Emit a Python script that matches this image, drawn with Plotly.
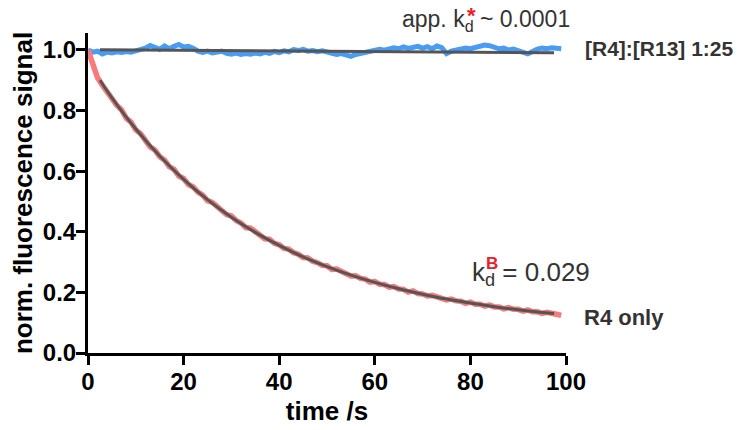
import plotly.graph_objects as go

# ---- data ----
time_s = list(range(0, 100))

r4_only = [1.000, 0.955, 0.908, 0.884, 0.861, 0.846, 0.818, 0.803, 0.775, 0.762,
           0.736, 0.724, 0.705, 0.680, 0.670, 0.648, 0.637, 0.615, 0.606, 0.584,
           0.576, 0.556, 0.548, 0.531, 0.521, 0.503, 0.497, 0.483, 0.472, 0.457,
           0.452, 0.437, 0.429, 0.414, 0.412, 0.399, 0.390, 0.377, 0.375, 0.362,
           0.357, 0.345, 0.343, 0.331, 0.326, 0.315, 0.314, 0.303, 0.298, 0.289,
           0.288, 0.276, 0.277, 0.268, 0.263, 0.254, 0.255, 0.246, 0.244, 0.234,
           0.236, 0.227, 0.226, 0.217, 0.219, 0.211, 0.210, 0.201, 0.205, 0.196,
           0.195, 0.188, 0.190, 0.184, 0.182, 0.175, 0.178, 0.172, 0.171, 0.164,
           0.168, 0.161, 0.161, 0.155, 0.158, 0.152, 0.152, 0.146, 0.150, 0.144,
           0.144, 0.138, 0.142, 0.136, 0.136, 0.131, 0.134, 0.129, 0.128, 0.124]

r4_r13 = [1.000, 0.993, 0.996, 0.987, 0.993, 0.990, 0.994, 0.992, 0.995, 0.993,
          0.997, 1.000, 1.006, 1.015, 1.007, 1.002, 1.013, 1.004, 1.012, 1.018,
          1.010, 1.012, 1.006, 0.996, 0.992, 0.996, 0.990, 0.993, 0.996, 0.989,
          0.986, 0.990, 0.985, 0.988, 0.986, 0.990, 0.987, 0.992, 0.989, 0.995,
          0.991, 0.997, 0.994, 1.001, 0.998, 1.002, 0.996, 0.998, 0.994, 0.997,
          0.993, 0.990, 0.985, 0.988, 0.982, 0.979, 0.985, 0.988, 0.991, 0.995,
          0.997, 1.002, 0.999, 1.004, 1.007, 1.004, 1.010, 1.005, 1.009, 1.012,
          1.006, 1.011, 1.004, 1.013, 1.008, 0.988, 0.996, 1.000, 1.002, 1.006,
          1.004, 1.009, 1.013, 1.016, 1.014, 1.010, 1.004, 1.006, 1.000, 1.003,
          0.997, 0.993, 0.987, 0.995, 1.003, 1.006, 1.004, 1.007, 1.005, 1.004]

fit_time = [2.5, 5, 10, 15, 20, 25, 30, 35, 40, 45, 50, 55, 60, 65, 70, 75, 80, 85, 90, 95, 97.5]
fit_r4_only = [0.900, 0.842, 0.739, 0.650, 0.573, 0.506, 0.448, 0.398, 0.355, 0.317, 0.285,
               0.257, 0.233, 0.212, 0.194, 0.178, 0.165, 0.153, 0.143, 0.134, 0.130]
fit_r4_r13_time = [2.5, 97.5]
fit_r4_r13 = [1.001, 0.991]

x_ticks = [0, 20, 40, 60, 80, 100]
y_ticks = [0.0, 0.2, 0.4, 0.6, 0.8, 1.0]

RED = "#F77B7B"
BLUE = "#4A9BF2"
GRAY = "#555555"
TXT = "#333333"
FONT = "Liberation Sans, Arial, sans-serif"

fig = go.Figure()
fig.add_trace(go.Scatter(x=time_s, y=r4_r13, mode="lines",
                         line=dict(color=BLUE, width=5), showlegend=False))
fig.add_trace(go.Scatter(x=time_s, y=r4_only, mode="lines",
                         line=dict(color=RED, width=5.5), showlegend=False))
fig.add_trace(go.Scatter(x=fit_r4_r13_time, y=fit_r4_r13, mode="lines",
                         line=dict(color=GRAY, width=3), showlegend=False))
fig.add_trace(go.Scatter(x=fit_time, y=fit_r4_only, mode="lines",
                         line=dict(color=GRAY, width=3, shape="spline"), showlegend=False))

# page body has an 8px default margin, so the figure is drawn offset by 8px
OFF = 8
W, H = 741 - OFF, 430 - OFF
L, T = 88 - OFF, 33 - OFF
pw, ph = 478, 320
R, B = W - L - pw, H - T - ph

def px(x):
    return (x - OFF - L) / pw

def py(y):
    return (T + ph - (y - OFF)) / ph

ann = []
def add(text, x, y, size, color=TXT, bold=False, xanchor="left"):
    t = f"<b>{text}</b>" if bold else text
    ann.append(dict(text=t, x=px(x), y=py(y), xref="paper", yref="paper",
                    xanchor=xanchor, yanchor="middle", showarrow=False,
                    font=dict(family=FONT, size=size, color=color)))

add("app. k<sub>d</sub> ~ 0.0001", 400, 21, 23)
add("*", 465, 16, 22, color="#E8202A", bold=True)
add("[R4]:[R13] 1:25", 583, 48, 21, bold=True)
add("k<sub>d</sub> = 0.029", 470, 273, 26)
add("B", 484, 263, 17, color="#E8202A", bold=True)
add("R4 only", 582, 317, 22, bold=True)

axis_common = dict(showgrid=False, zeroline=False, showline=True, linecolor="black",
                   linewidth=3, ticks="outside", ticklen=9, tickwidth=3, tickcolor="black",
                   automargin=False,
                   tickfont=dict(family=FONT, size=24, color="black", weight="bold"))

fig.update_layout(
    width=W, height=H,
    margin=dict(l=L, r=R, t=T, b=B, pad=0),
    paper_bgcolor="white", plot_bgcolor="white",
    font=dict(family=FONT, color="black"),
    annotations=ann,
    xaxis=dict(range=[0, 100], tickvals=x_ticks, ticktext=[str(v) for v in x_ticks],
               ticklabelstandoff=-4,
               title=dict(text="<b>time /s</b>", font=dict(family=FONT, size=26, color="black"),
                          standoff=9),
               **axis_common),
    yaxis=dict(range=[0, 1.056], tickvals=y_ticks, ticktext=[f"{v:.1f}" for v in y_ticks],
               ticklabelstandoff=-5,
               title=dict(text="<b>norm. fluorescence signal</b>",
                          font=dict(family=FONT, size=26, color="black"), standoff=11),
               **axis_common),
)

fig.write_html("out.html")
